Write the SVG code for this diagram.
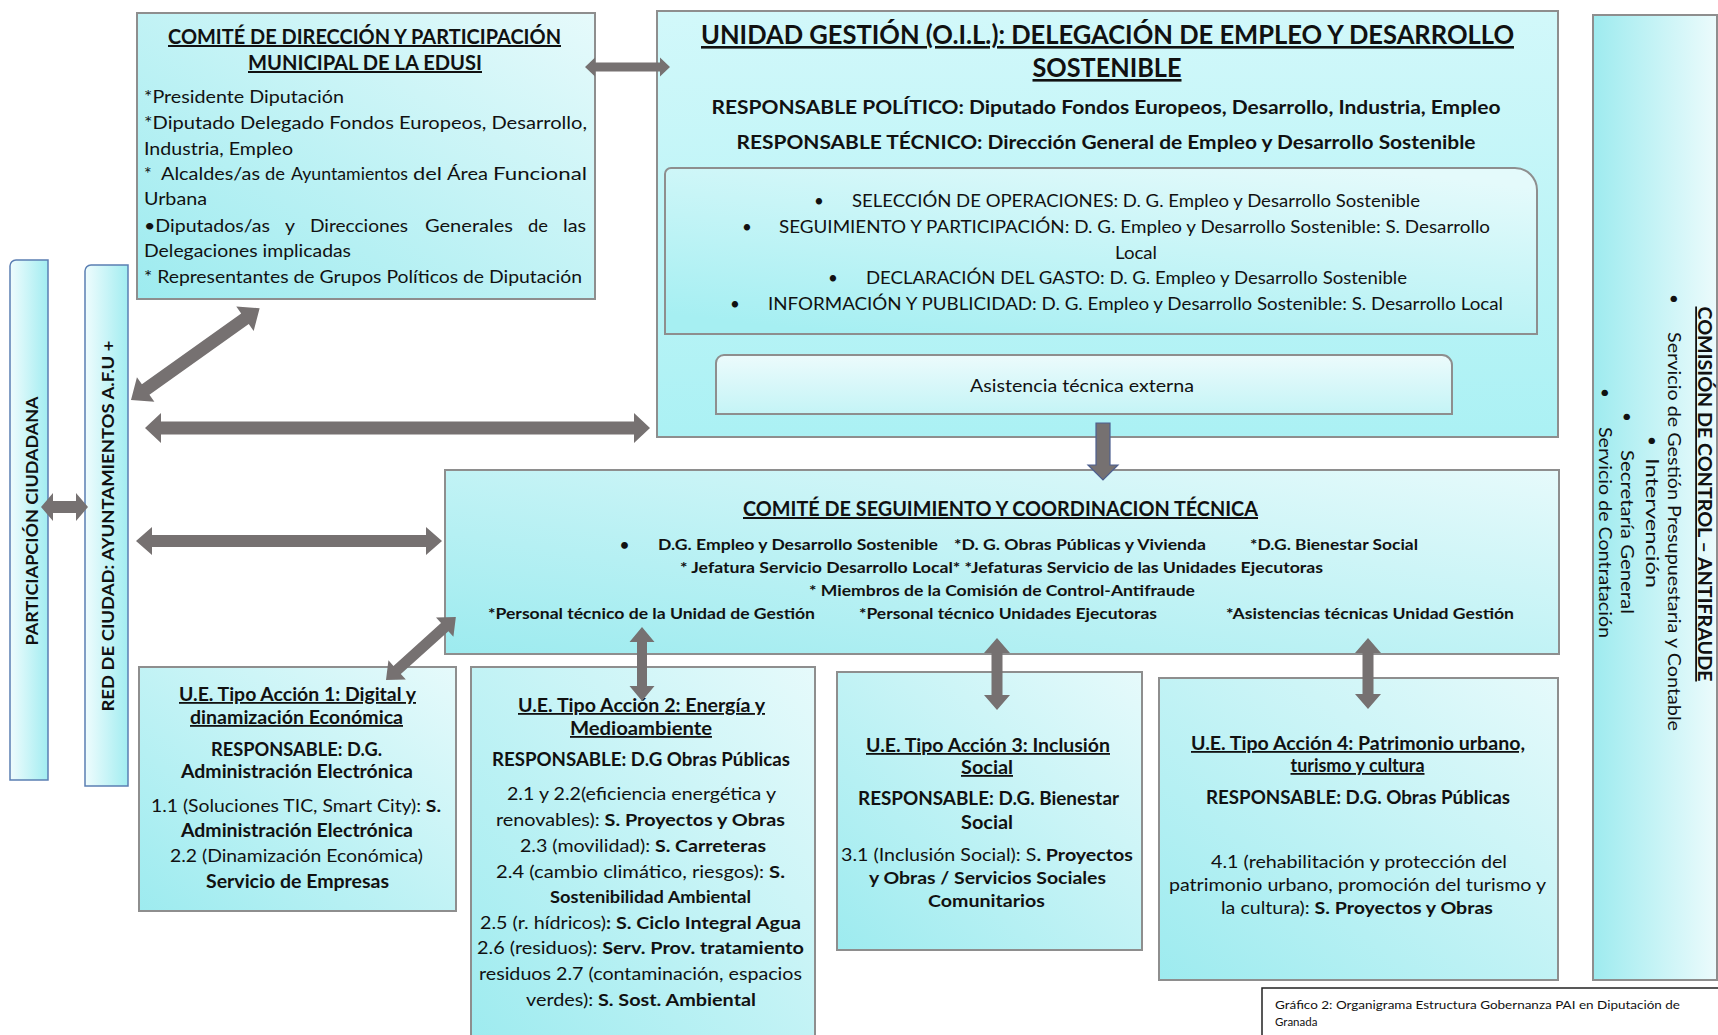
<svg xmlns="http://www.w3.org/2000/svg" width="1718" height="1035" viewBox="0 0 1718 1035">
<style>
text{font-family:Lato,'Liberation Sans',sans-serif;fill:#111}
.b{font-weight:700}
.u{text-decoration:underline}
.m{text-anchor:middle}
.box{stroke:#8e8e8e;stroke-width:2}
.bar{stroke:#5b7fb3;stroke-width:1.5}
.arr{fill:#767171}
</style>
<defs>
<linearGradient id="gA" x1="1" y1="0" x2="0" y2="1"><stop offset="0" stop-color="#e6fafb"/><stop offset="1" stop-color="#9debef"/></linearGradient>
<linearGradient id="gU" x1="0" y1="0" x2="0" y2="1"><stop offset="0" stop-color="#d2f8fa"/><stop offset="1" stop-color="#abf1f4"/></linearGradient>
<linearGradient id="gI" x1="0.8" y1="0" x2="0.2" y2="1"><stop offset="0" stop-color="#e4fafb"/><stop offset="1" stop-color="#a6eff2"/></linearGradient>
<linearGradient id="gS" x1="0" y1="0" x2="0" y2="1"><stop offset="0" stop-color="#ecfbfc"/><stop offset="1" stop-color="#c4f4f6"/></linearGradient>
<linearGradient id="gC" x1="0" y1="0" x2="1" y2="0"><stop offset="0" stop-color="#9eebef"/><stop offset="1" stop-color="#ecfbfc"/></linearGradient>
<linearGradient id="gB" x1="0" y1="0" x2="1" y2="0"><stop offset="0" stop-color="#effcfd"/><stop offset="1" stop-color="#a2edf1"/></linearGradient>
</defs>

<g id="participacion">
<path class="bar" d="M10,266 A6,6 0 0 1 16,260 H48 V780 H10 Z" fill="url(#gB)"/>
<text class="b m" font-size="17" transform="translate(38,521) rotate(-90)" textLength="249" lengthAdjust="spacingAndGlyphs">PARTICIAPCIÓN CIUDADANA</text>
</g>

<g id="red-ciudad">
<path class="bar" d="M85,271 A6,6 0 0 1 91,265 H128 V786 H85 Z" fill="url(#gB)"/>
<text class="b m" font-size="17" transform="translate(114,526) rotate(-90)" textLength="371" lengthAdjust="spacingAndGlyphs">RED DE CIUDAD: AYUNTAMIENTOS A.F.U +</text>
</g>

<g id="comite-direccion">
<rect x="137" y="13" width="458" height="286" fill="url(#gA)" class="box"/>
<text class="b u m" x="364.5" y="44" font-size="20" textLength="393" lengthAdjust="spacingAndGlyphs">COMITÉ DE DIRECCIÓN Y PARTICIPACIÓN</text>
<text class="b u m" x="365" y="70" font-size="20" textLength="234" lengthAdjust="spacingAndGlyphs">MUNICIPAL DE LA EDUSI</text>
<g font-size="18">
<text x="144" y="103" textLength="200" lengthAdjust="spacingAndGlyphs">*Presidente Diputación</text>
<text x="144" y="129" textLength="443" lengthAdjust="spacingAndGlyphs">*Diputado Delegado Fondos Europeos, Desarrollo,</text>
<text x="144" y="155" textLength="149" lengthAdjust="spacingAndGlyphs">Industria, Empleo</text>
<text x="144" y="180">*</text>
<text x="161" y="180" textLength="99" lengthAdjust="spacingAndGlyphs">Alcaldes/as</text>
<text x="265" y="180" textLength="20" lengthAdjust="spacingAndGlyphs">de</text>
<text x="291" y="180" textLength="117" lengthAdjust="spacingAndGlyphs">Ayuntamientos</text>
<text x="413" y="180" textLength="29" lengthAdjust="spacingAndGlyphs">del</text>
<text x="447" y="180" textLength="41" lengthAdjust="spacingAndGlyphs">Área</text>
<text x="493" y="180" textLength="94" lengthAdjust="spacingAndGlyphs">Funcional</text>
<text x="144" y="205" textLength="63" lengthAdjust="spacingAndGlyphs">Urbana</text>
<text x="144" y="232" textLength="126" lengthAdjust="spacingAndGlyphs">•Diputados/as</text>
<text x="285" y="232" textLength="10" lengthAdjust="spacingAndGlyphs">y</text>
<text x="310" y="232" textLength="98" lengthAdjust="spacingAndGlyphs">Direcciones</text>
<text x="425" y="232" textLength="88" lengthAdjust="spacingAndGlyphs">Generales</text>
<text x="528" y="232" textLength="20" lengthAdjust="spacingAndGlyphs">de</text>
<text x="563" y="232" textLength="23" lengthAdjust="spacingAndGlyphs">las</text>
<text x="144" y="257" textLength="207" lengthAdjust="spacingAndGlyphs">Delegaciones implicadas</text>
<text x="144" y="283" textLength="438" lengthAdjust="spacingAndGlyphs">* Representantes de Grupos Políticos de Diputación</text>
</g>
</g>

<g id="unidad-gestion">
<rect x="657" y="11" width="901" height="426" fill="url(#gU)" class="box"/>
<text class="b u m" x="1107.5" y="44" font-size="26" textLength="813" lengthAdjust="spacingAndGlyphs">UNIDAD GESTIÓN (O.I.L.): DELEGACIÓN DE EMPLEO Y DESARROLLO</text>
<text class="b u m" x="1107" y="77" font-size="26" textLength="149" lengthAdjust="spacingAndGlyphs">SOSTENIBLE</text>
<text class="b m" x="1106" y="114" font-size="19" textLength="789" lengthAdjust="spacingAndGlyphs">RESPONSABLE POLÍTICO: Diputado Fondos Europeos, Desarrollo, Industria, Empleo</text>
<text class="b m" x="1106" y="149" font-size="19" textLength="739" lengthAdjust="spacingAndGlyphs">RESPONSABLE TÉCNICO: Dirección General de Empleo y Desarrollo Sostenible</text>
</g>

<g id="funciones">
<path class="box" d="M671,168 H1515 A22,22 0 0 1 1537,190 V334 H665 V174 A6,6 0 0 1 671,168 Z" fill="url(#gI)"/>
<g font-size="17">
<text x="814" y="207">•</text>
<text x="852" y="207" textLength="568" lengthAdjust="spacingAndGlyphs">SELECCIÓN DE OPERACIONES: D. G. Empleo y Desarrollo Sostenible</text>
<text x="742" y="233">•</text>
<text x="779" y="233" textLength="711" lengthAdjust="spacingAndGlyphs">SEGUIMIENTO Y PARTICIPACIÓN: D. G. Empleo y Desarrollo Sostenible: S. Desarrollo</text>
<text class="m" x="1136" y="259" textLength="42" lengthAdjust="spacingAndGlyphs">Local</text>
<text x="828" y="284">•</text>
<text x="866" y="284" textLength="541" lengthAdjust="spacingAndGlyphs">DECLARACIÓN DEL GASTO: D. G. Empleo y Desarrollo Sostenible</text>
<text x="730" y="310">•</text>
<text x="768" y="310" textLength="735" lengthAdjust="spacingAndGlyphs">INFORMACIÓN Y PUBLICIDAD: D. G. Empleo y Desarrollo Sostenible: S. Desarrollo Local</text>
</g>
</g>

<g id="asistencia">
<path class="box" d="M724,355 H1442 A10,10 0 0 1 1452,365 V414 H716 V363 A8,8 0 0 1 724,355 Z" fill="url(#gS)"/>
<text class="m" x="1082" y="392" font-size="17" textLength="224" lengthAdjust="spacingAndGlyphs">Asistencia técnica externa</text>
</g>

<g id="comite-seguimiento">
<rect x="445" y="470" width="1114" height="184" fill="url(#gA)" class="box"/>
<text class="b u m" x="1000.5" y="516" font-size="20" textLength="515" lengthAdjust="spacingAndGlyphs">COMITÉ DE SEGUIMIENTO Y COORDINACION TÉCNICA</text>
<g class="b" font-size="15.5">
<text x="620" y="550">•</text>
<text x="658" y="550" textLength="280" lengthAdjust="spacingAndGlyphs">D.G. Empleo y Desarrollo Sostenible</text>
<text x="954" y="550" textLength="252" lengthAdjust="spacingAndGlyphs">*D. G. Obras Públicas y Vivienda</text>
<text x="1250" y="550" textLength="168" lengthAdjust="spacingAndGlyphs">*D.G. Bienestar Social</text>
<text x="680" y="573" textLength="643" lengthAdjust="spacingAndGlyphs">* Jefatura Servicio Desarrollo Local* *Jefaturas Servicio de las Unidades Ejecutoras</text>
<text x="809" y="596" textLength="386" lengthAdjust="spacingAndGlyphs">* Miembros de la Comisión de Control-Antifraude</text>
<text x="488" y="619" textLength="327" lengthAdjust="spacingAndGlyphs">*Personal técnico de la Unidad de Gestión</text>
<text x="859" y="619" textLength="298" lengthAdjust="spacingAndGlyphs">*Personal técnico Unidades Ejecutoras</text>
<text x="1226" y="619" textLength="288" lengthAdjust="spacingAndGlyphs">*Asistencias técnicas Unidad Gestión</text>
</g>
</g>

<g id="ue1">
<rect x="139" y="667" width="317" height="244" fill="url(#gA)" class="box"/>
<text class="b u m" x="297.5" y="701" font-size="18" textLength="237" lengthAdjust="spacingAndGlyphs">U.E. Tipo Acción 1: Digital y</text>
<text class="b u m" x="296.5" y="724" font-size="18" textLength="213" lengthAdjust="spacingAndGlyphs">dinamización Económica</text>
<text class="b m" x="296.5" y="756" font-size="18" textLength="171" lengthAdjust="spacingAndGlyphs">RESPONSABLE: D.G.</text>
<text class="b m" x="297" y="778" font-size="18" textLength="232" lengthAdjust="spacingAndGlyphs">Administración Electrónica</text>
<text class="m" x="296" y="812" font-size="17" textLength="290" lengthAdjust="spacingAndGlyphs">1.1 (Soluciones TIC, Smart City):<tspan class="b"> S.</tspan></text>
<text class="b m" x="297" y="837" font-size="18" textLength="232" lengthAdjust="spacingAndGlyphs">Administración Electrónica</text>
<text class="m" x="296.5" y="862" font-size="17" textLength="253" lengthAdjust="spacingAndGlyphs">2.2 (Dinamización Económica)</text>
<text class="b m" x="297.5" y="888" font-size="18" textLength="183" lengthAdjust="spacingAndGlyphs">Servicio de Empresas</text>
</g>

<g id="ue2">
<rect x="471" y="667" width="344" height="380" fill="url(#gA)" class="box"/>
<text class="b u m" x="641.5" y="712" font-size="18" textLength="247" lengthAdjust="spacingAndGlyphs">U.E. Tipo Acción 2: Energía y</text>
<text class="b u m" x="641" y="735" font-size="18" textLength="142" lengthAdjust="spacingAndGlyphs">Medioambiente</text>
<text class="b m" x="641" y="766" font-size="18" textLength="298" lengthAdjust="spacingAndGlyphs">RESPONSABLE: D.G Obras Públicas</text>
<g font-size="17">
<text class="m" x="641.5" y="800" textLength="269" lengthAdjust="spacingAndGlyphs">2.1 y 2.2(eficiencia energética y</text>
<text class="m" x="640.5" y="826" textLength="289" lengthAdjust="spacingAndGlyphs">renovables):<tspan class="b"> S. Proyectos y Obras</tspan></text>
<text class="m" x="643" y="852" textLength="246" lengthAdjust="spacingAndGlyphs">2.3 (movilidad):<tspan class="b"> S. Carreteras</tspan></text>
<text class="m" x="640.5" y="878" textLength="289" lengthAdjust="spacingAndGlyphs">2.4 (cambio climático, riesgos):  <tspan class="b">S.</tspan></text>
<text class="m b" x="650.5" y="903" textLength="201" lengthAdjust="spacingAndGlyphs">Sostenibilidad Ambiental</text>
<text class="m" x="640.5" y="929" textLength="321" lengthAdjust="spacingAndGlyphs">2.5 (r. hídricos)<tspan class="b">: S. Ciclo Integral Agua</tspan></text>
<text class="m" x="640.5" y="954" textLength="327" lengthAdjust="spacingAndGlyphs">2.6 (residuos):<tspan class="b"> Serv. Prov. tratamiento</tspan></text>
<text class="m" x="640.5" y="980" textLength="323" lengthAdjust="spacingAndGlyphs">residuos 2.7 (contaminación, espacios</text>
<text class="m" x="641" y="1006" textLength="230" lengthAdjust="spacingAndGlyphs">verdes):<tspan class="b"> S. Sost. Ambiental</tspan></text>
</g>
</g>

<g id="ue3">
<rect x="837" y="672" width="305" height="278" fill="url(#gA)" class="box"/>
<text class="b u m" x="988" y="752" font-size="18" textLength="244" lengthAdjust="spacingAndGlyphs">U.E. Tipo Acción 3: Inclusión</text>
<text class="b u m" x="987" y="774" font-size="18" textLength="52" lengthAdjust="spacingAndGlyphs">Social</text>
<text class="b m" x="988.5" y="805" font-size="18" textLength="261" lengthAdjust="spacingAndGlyphs">RESPONSABLE: D.G. Bienestar</text>
<text class="b m" x="987" y="829" font-size="18" textLength="52" lengthAdjust="spacingAndGlyphs">Social</text>
<text class="m" x="987" y="861" font-size="17" textLength="292" lengthAdjust="spacingAndGlyphs">3.1 (Inclusión Social): S<tspan class="b">. Proyectos</tspan></text>
<text class="b m" x="987.5" y="884" font-size="17" textLength="237" lengthAdjust="spacingAndGlyphs">y Obras / Servicios Sociales</text>
<text class="b m" x="986.5" y="907" font-size="17" textLength="117" lengthAdjust="spacingAndGlyphs">Comunitarios</text>
</g>

<g id="ue4">
<rect x="1159" y="678" width="399" height="302" fill="url(#gA)" class="box"/>
<text class="b u m" x="1358" y="750" font-size="18" textLength="334" lengthAdjust="spacingAndGlyphs">U.E. Tipo Acción 4: Patrimonio urbano,</text>
<text class="b u m" x="1357.5" y="772" font-size="18" textLength="134" lengthAdjust="spacingAndGlyphs">turismo y cultura</text>
<text class="b m" x="1358" y="804" font-size="18" textLength="304" lengthAdjust="spacingAndGlyphs">RESPONSABLE: D.G. Obras Públicas</text>
<text class="m" x="1359" y="868" font-size="17" textLength="296" lengthAdjust="spacingAndGlyphs">4.1 (rehabilitación y protección del</text>
<text class="m" x="1357.5" y="891" font-size="17" textLength="377" lengthAdjust="spacingAndGlyphs">patrimonio urbano, promoción del turismo y</text>
<text class="m" x="1357" y="914" font-size="17" textLength="272" lengthAdjust="spacingAndGlyphs">la cultura):<tspan class="b"> S. Proyectos y Obras</tspan></text>
</g>

<g id="comision-control">
<rect x="1593" y="15" width="124" height="965" fill="url(#gC)" class="box"/>
<text class="b u m" font-size="18" transform="translate(1698,494) rotate(90)" textLength="375" lengthAdjust="spacingAndGlyphs">COMISIÓN DE CONTROL – ANTIFRAUDE</text>
<g font-size="17">
<text transform="translate(1668,294) rotate(90)">•</text>
<text transform="translate(1668,332) rotate(90)" textLength="399" lengthAdjust="spacingAndGlyphs">Servicio de Gestión Presupuestaria y Contable</text>
<text transform="translate(1646,436) rotate(90)">•</text>
<text transform="translate(1646,458) rotate(90)" textLength="130" lengthAdjust="spacingAndGlyphs">Intervención</text>
<text transform="translate(1621,412) rotate(90)">•</text>
<text transform="translate(1621,450) rotate(90)" textLength="164" lengthAdjust="spacingAndGlyphs">Secretaría General</text>
<text transform="translate(1599,388) rotate(90)">•</text>
<text transform="translate(1599,427) rotate(90)" textLength="211" lengthAdjust="spacingAndGlyphs">Servicio de Contratación</text>
</g>
</g>

<g id="caption">
<rect x="1262" y="988" width="470" height="60" fill="#fff" stroke="#222" stroke-width="1.5"/>
<text x="1275" y="1009" font-size="11.5" fill="#333" textLength="405" lengthAdjust="spacingAndGlyphs">Gráfico 2: Organigrama Estructura Gobernanza  PAI en Diputación  de</text>
<text x="1275" y="1026" font-size="11.5" fill="#333">Granada</text>
</g>

<g id="connectors">
<polygon class="arr" points="585,67 595,57.5 595,62.5 660,62.5 660,57.5 670,67 660,76.5 660,71.5 595,71.5 595,76.5"/>
<polygon class="arr" points="145,428 161,413 161,421.5 634,421.5 634,413 650,428 634,443 634,434.5 161,434.5 161,443"/>
<polygon class="arr" points="136,541 152,527 152,535 426,535 426,527 442,541 426,555 426,547 152,547 152,555"/>
<polygon class="arr" points="41,507 53,493 53,501 76,501 76,493 88,507 76,521 76,513 53,513 53,521"/>
<polygon class="arr" transform="translate(131,400) rotate(-35.5)" points="0,0 18,-15 18,-6.5 140,-6.5 140,-15 158,0 140,15 140,6.5 18,6.5 18,15"/>
<polygon class="arr" transform="translate(386,680) rotate(-42)" points="0,0 15,-13 15,-5.5 79,-5.5 79,-13 94,0 79,13 79,5.5 15,5.5 15,13"/>
<polygon class="arr" points="642,627 654.5,642 647,642 647,686 654.5,686 642,701 629.5,686 637,686 637,642 629.5,642"/>
<polygon class="arr" points="997,638 1010,653 1002.5,653 1002.5,695 1010,695 997,710 984,695 991.5,695 991.5,653 984,653"/>
<polygon class="arr" points="1368,638 1381,653 1373.5,653 1373.5,694 1381,694 1368,709 1355,694 1362.5,694 1362.5,653 1355,653"/>
<polygon class="arr" stroke="#4d5f8f" stroke-width="1.2" points="1096,423 1110,423 1110,465 1118,465 1103,480 1088,465 1096,465"/>
</g>
</svg>
